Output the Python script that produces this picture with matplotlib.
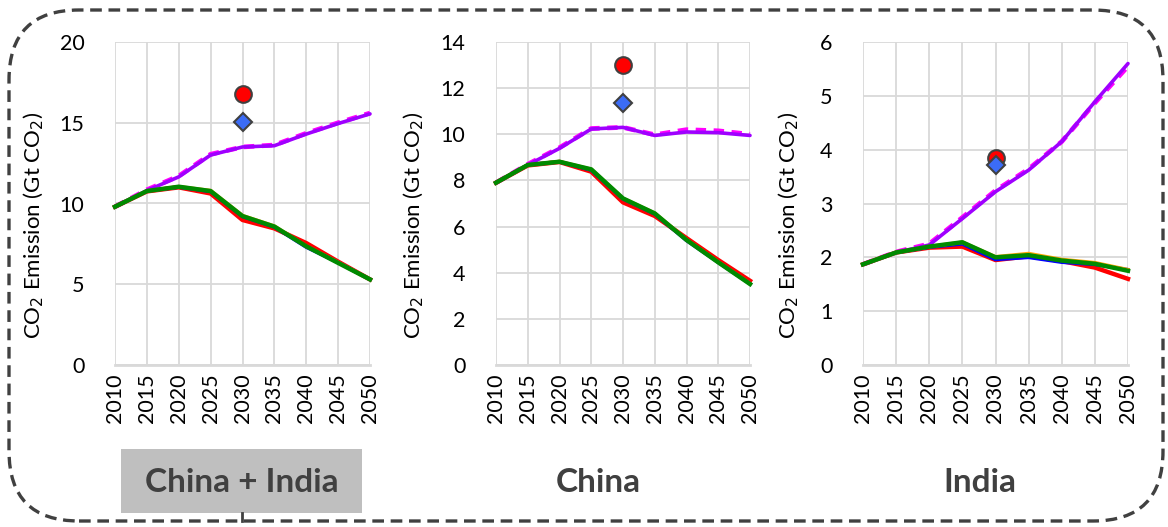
import matplotlib
matplotlib.use("Agg")
import matplotlib.pyplot as plt
from matplotlib.patches import FancyBboxPatch, Rectangle
from matplotlib.lines import Line2D

plt.rcParams['font.family'] = ['Lato', 'DejaVu Sans']

years = [2010, 2015, 2020, 2025, 2030, 2035, 2040, 2045, 2050]

# China + India
ci_purple = [9.8, 10.8, 11.65, 13.0, 13.5, 13.58, 14.3, 14.95, 15.55]
ci_magenta = [9.8, 10.85, 11.7, 13.05, 13.5, 13.62, 14.35, 15.0, 15.6]
ci_red = [9.8, 10.75, 11.0, 10.62, 8.98, 8.46, 7.55, 6.4, 5.3]
ci_blue = [9.8, 10.78, 11.02, 10.75, 9.2, 8.55, 7.3, 6.35, 5.3]
ci_orange = [9.8, 10.78, 11.04, 10.8, 9.25, 8.6, 7.35, 6.35, 5.3]
ci_green = [9.8, 10.77, 11.04, 10.77, 9.22, 8.57, 7.35, 6.32, 5.3]
ci_circle = 16.8
ci_diamond = 15.07

# China
cn_purple = [7.9, 8.67, 9.39, 10.23, 10.3, 9.95, 10.1, 10.07, 9.95]
cn_magenta = [7.9, 8.7, 9.42, 10.25, 10.3, 9.98, 10.2, 10.15, 10.0]
cn_red = [7.9, 8.65, 8.8, 8.38, 7.05, 6.46, 5.5, 4.55, 3.65]
cn_blue = [7.9, 8.67, 8.81, 8.45, 7.2, 6.55, 5.4, 4.45, 3.52]
cn_orange = [7.9, 8.67, 8.82, 8.48, 7.22, 6.58, 5.43, 4.46, 3.52]
cn_green = [7.9, 8.67, 8.81, 8.48, 7.22, 6.57, 5.42, 4.45, 3.51]
cn_circle = 13.0
cn_diamond = 11.37

# India
in_purple = [1.87, 2.09, 2.23, 2.72, 3.22, 3.62, 4.15, 4.89, 5.6]
in_magenta = [1.87, 2.1, 2.25, 2.74, 3.24, 3.64, 4.15, 4.87, 5.55]
in_red = [1.87, 2.09, 2.18, 2.2, 1.95, 2.02, 1.93, 1.81, 1.6]
in_blue = [1.87, 2.09, 2.19, 2.25, 1.96, 2.0, 1.91, 1.87, 1.77]
in_orange = [1.87, 2.09, 2.2, 2.28, 2.01, 2.07, 1.96, 1.9, 1.77]
in_green = [1.87, 2.09, 2.2, 2.28, 2.0, 2.04, 1.94, 1.88, 1.75]
in_circle = 3.84
in_diamond = 3.72

titles = ["China + India", "China", "India"]
ymaxes = [20, 14, 6]
ysteps = [5, 2, 1]

panels = [
    (ci_purple, ci_magenta, ci_red, ci_blue, ci_orange, ci_green, ci_circle, ci_diamond),
    (cn_purple, cn_magenta, cn_red, cn_blue, cn_orange, cn_green, cn_circle, cn_diamond),
    (in_purple, in_magenta, in_red, in_blue, in_orange, in_green, in_circle, in_diamond),
]

W, H = 1168, 527
fig = plt.figure(figsize=(W / 100, H / 100), dpi=100)

# axes boxes in pixels: left, right
boxes = [(115, 370), (496, 750), (863, 1128)]
top_px, bot_px = 42, 365
ylabel_x = [34, 414, 789]
title_x = [242, 598, 980]

grid_c = '#d9d9d9'
text_c = '#404040'

for i, (l, r) in enumerate(boxes):
    ax = fig.add_axes([l / W, (H - bot_px) / H, (r - l) / W, (bot_px - top_px) / H])
    purple, magenta, red, blue, orange, green, circ, diam = panels[i]

    ax.plot(years, magenta, color='#ff00ff', lw=3.4, ls=(0, (2.2, 1.6)), zorder=3, clip_on=False)
    ax.plot(years, purple, color='#9f00ff', lw=2.6, solid_capstyle='round', zorder=4, clip_on=False)
    ax.plot(years, red, color='#ff0000', lw=3.2, zorder=3, clip_on=False)
    ax.plot(years, blue, color='#0000ff', lw=2.6, zorder=4, clip_on=False)
    ax.plot(years, orange, color='#ffa500', lw=2.6, zorder=5, clip_on=False)
    ax.plot(years, green, color='#008a00', lw=3.2, zorder=6, clip_on=False)

    ax.plot([2030], [circ], marker='o', ms=12, mfc='#ff0000', mec='#404040', mew=1.5, zorder=7, clip_on=False)
    ax.plot([2030], [diam], marker='D', ms=9.5, mfc='#3b6cf6', mec='#404040', mew=1.5, zorder=8, clip_on=False)

    ax.set_xlim(2010, 2050)
    ax.set_ylim(0, ymaxes[i])
    ax.set_xticks(years)
    ax.set_xticklabels([str(y) for y in years], rotation=90, fontsize=15.5)
    ax.set_yticks(range(0, ymaxes[i] + 1, ysteps[i]))
    ax.tick_params(axis='y', labelsize=15.5, length=0, pad=22)
    ax.tick_params(axis='x', length=0, pad=6)
    ax.grid(True, color=grid_c, lw=1.3)
    ax.set_axisbelow(True)
    for s in ['left', 'right', 'top']:
        ax.spines[s].set_visible(False)
    ax.spines['bottom'].set_color(grid_c)
    ax.spines['bottom'].set_linewidth(2)

    fig.text(ylabel_x[i] / W, (H - 225) / H, 'CO$_2$ Emission (Gt CO$_2$)', rotation=90,
             ha='center', va='center', fontsize=16)

    fig.text(title_x[i] / W, (H - 482) / H, titles[i], ha='center', va='center',
             fontsize=24, fontweight='bold', color=text_c, zorder=5)

# grey box behind "China + India"
fig.patches.append(Rectangle((121 / W, (H - 513) / H), (362 - 121) / W, (513 - 449) / H,
                             transform=fig.transFigure, facecolor='#bfbfbf', edgecolor='none', zorder=1))
fig.lines.append(Line2D([242 / W, 242 / W], [(H - 513) / H, (H - 521) / H],
                        transform=fig.transFigure, color=text_c, lw=2))

# rounded dashed frame (in inches so corners stay round)
frame = FancyBboxPatch((0.09, 0.06), 11.54, 5.11,
                       boxstyle='round,pad=0,rounding_size=0.7',
                       transform=fig.dpi_scale_trans, facecolor='none',
                       edgecolor=text_c, lw=2.4, ls=(0, (3.5, 2)), zorder=0)
fig.patches.append(frame)

fig.savefig('out.png', dpi=100)
